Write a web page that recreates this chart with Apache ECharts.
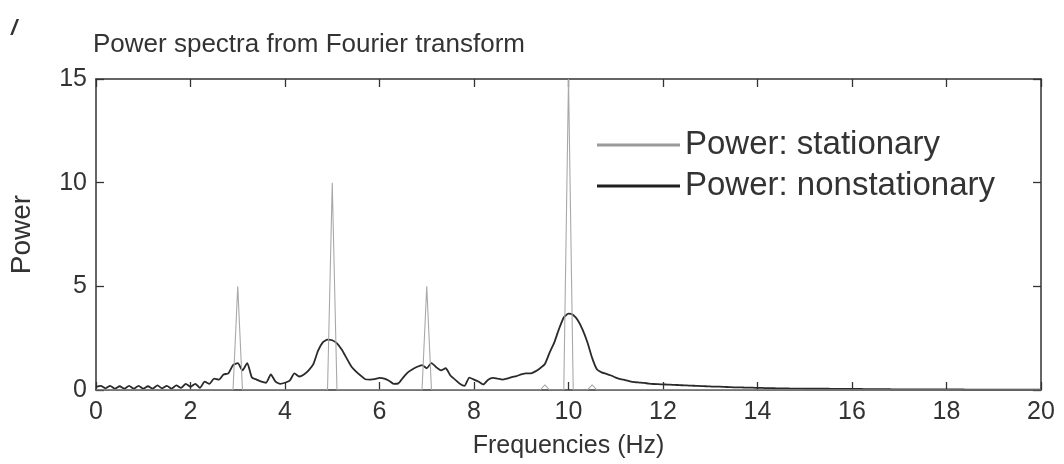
<!DOCTYPE html>
<html>
<head>
<meta charset="utf-8">
<script src="https://cdn.jsdelivr.net/npm/echarts@6/dist/echarts.min.js"></script>
<style>
  html, body { margin: 0; padding: 0; background: #fff; }
  #chart { width: 1064px; height: 464px; }
</style>
</head>
<body>
<div id="chart"></div>
<script>
// Power spectra of a stationary and a nonstationary signal (Fourier transform)

const xTicks = [0, 2, 4, 6, 8, 10, 12, 14, 16, 18, 20];
const yTicks = [0, 5, 10, 15];

// Stationary signal: narrow spectral lines, [frequency (Hz), power]
const stationary = [
  [0, 0], [2.9, 0], [3, 5], [3.1, 0],
  [4.9, 0], [5, 10], [5.1, 0],
  [6.9, 0], [7, 5], [7.1, 0],
  [9.4, 0], [9.5, 0.25], [9.6, 0],
  [9.9, 0], [10, 15], [10.1, 0],
  [10.4, 0], [10.5, 0.25], [10.6, 0],
  [20, 0]
];

// Nonstationary signal: power sampled every 0.1 Hz from 0 to 20 Hz
const freqStep = 0.1;
const nonstationary = [
  0.15, 0.2, 0.08, 0.2, 0.07, 0.18, 0.06, 0.2, 0.07, 0.2,        // 0.0 - 0.9
  0.06, 0.18, 0.07, 0.22, 0.08, 0.2, 0.07, 0.22, 0.1, 0.3,       // 1.0 - 1.9
  0.15, 0.3, 0.1, 0.4, 0.3, 0.55, 0.5, 0.75, 0.8, 1.2,           // 2.0 - 2.9
  1.3, 0.95, 1.3, 0.6, 0.5, 0.4, 0.35, 0.75, 0.4, 0.3,           // 3.0 - 3.9
  0.35, 0.45, 0.8, 0.65, 0.75, 0.95, 1.25, 1.9, 2.3, 2.43,       // 4.0 - 4.9
  2.4, 2.25, 1.95, 1.55, 1.15, 0.9, 0.7, 0.52, 0.5, 0.52,        // 5.0 - 5.9
  0.58, 0.55, 0.45, 0.3, 0.32, 0.6, 0.85, 1.0, 1.12, 1.2,        // 6.0 - 6.9
  1.05, 1.3, 1.1, 0.95, 1.05, 0.7, 0.5, 0.3, 0.2, 0.6,           // 7.0 - 7.9
  0.5, 0.4, 0.27, 0.5, 0.58, 0.55, 0.5, 0.55, 0.62, 0.67,        // 8.0 - 8.9
  0.75, 0.8, 0.8, 0.9, 1.05, 1.25, 1.8, 2.3, 2.95, 3.5,          // 9.0 - 9.9
  3.68, 3.62, 3.35, 2.9, 2.3, 1.55, 1.0, 0.85, 0.78, 0.7,        // 10.0 - 10.9
  0.6, 0.52, 0.48, 0.42, 0.38, 0.36, 0.34, 0.31, 0.29, 0.28,     // 11.0 - 11.9
  0.27, 0.26, 0.25, 0.24, 0.23, 0.22, 0.21, 0.2, 0.19, 0.18,     // 12.0 - 12.9
  0.17, 0.16, 0.16, 0.15, 0.14, 0.13, 0.13, 0.12, 0.11, 0.11,    // 13.0 - 13.9
  0.1, 0.1, 0.09, 0.09, 0.08, 0.08, 0.08, 0.07, 0.07, 0.07,      // 14.0 - 14.9
  0.06, 0.06, 0.06, 0.06, 0.06, 0.06, 0.05, 0.05, 0.05, 0.05,    // 15.0 - 15.9
  0.05, 0.05, 0.05, 0.04, 0.04, 0.04, 0.04, 0.04, 0.04, 0.03,    // 16.0 - 16.9
  0.03, 0.03, 0.03, 0.03, 0.03, 0.03, 0.03, 0.03, 0.03, 0.03,    // 17.0 - 17.9
  0.03, 0.03, 0.03, 0.03, 0.02, 0.02, 0.02, 0.02, 0.02, 0.02,    // 18.0 - 18.9
  0.02, 0.02, 0.02, 0.02, 0.02, 0.02, 0.02, 0.02, 0.02, 0.02,    // 19.0 - 19.9
  0.02                                                            // 20.0
];

const nonstationaryPairs = nonstationary.map((p, i) => [+(i * freqStep).toFixed(1), p]);

const FONT = '"Liberation Sans", Arial, sans-serif';
const INK = '#333';

const chart = echarts.init(document.getElementById('chart'), null, { renderer: 'canvas' });

// Boxed frame: every side carries inward-pointing ticks
const frameTick = { show: true, inside: true, length: 8, lineStyle: { color: INK, width: 1.3 } };
const frameLine = { show: true, onZero: false, lineStyle: { color: INK, width: 1.5 } };

chart.setOption({
  backgroundColor: '#fff',
  animation: false,
  title: {
    text: 'Power spectra from Fourier transform',
    left: 88, top: 27,
    textStyle: { fontFamily: FONT, fontSize: 26, fontWeight: 'normal', color: INK }
  },
  graphic: [{
    type: 'text', left: 11, top: 18,
    style: { text: '/', font: 'italic bold 22px ' + FONT, fill: INK }
  }],
  legend: {
    left: 597, top: 127, orient: 'vertical', padding: 0,
    itemWidth: 83, itemHeight: 3, itemGap: 5,
    icon: 'rect',
    data: ['Power: stationary', 'Power: nonstationary'],
    textStyle: { fontFamily: FONT, fontSize: 33, color: INK, lineHeight: 36 }
  },
  grid: { left: 93, right: 23, top: 79, bottom: 70, containLabel: false },
  xAxis: [{
    type: 'value', min: xTicks[0], max: xTicks[xTicks.length - 1], interval: 2,
    name: 'Frequencies (Hz)', nameLocation: 'middle', nameGap: 44,
    nameTextStyle: { fontFamily: FONT, fontSize: 25, color: INK },
    axisLine: frameLine, axisTick: frameTick,
    axisLabel: { fontFamily: FONT, fontSize: 25, color: INK, margin: 10 },
    splitLine: { show: false }
  }, {
    type: 'value', position: 'top', min: xTicks[0], max: xTicks[xTicks.length - 1], interval: 2,
    axisLine: frameLine, axisTick: frameTick, axisLabel: { show: false }, splitLine: { show: false }
  }],
  yAxis: [{
    type: 'value', min: yTicks[0], max: yTicks[yTicks.length - 1], interval: 5,
    name: 'Power', nameLocation: 'middle', nameGap: 60, nameRotate: 90,
    nameTextStyle: { fontFamily: FONT, fontSize: 28, color: INK },
    axisLine: frameLine, axisTick: frameTick,
    axisLabel: { fontFamily: FONT, fontSize: 25, color: INK, margin: 9 },
    splitLine: { show: false }
  }, {
    type: 'value', position: 'right', min: yTicks[0], max: yTicks[yTicks.length - 1], interval: 5,
    axisLine: frameLine, axisTick: frameTick, axisLabel: { show: false }, splitLine: { show: false }
  }],
  series: [{
    name: 'Power: nonstationary',
    type: 'line', data: nonstationaryPairs,
    showSymbol: false, smooth: 0.2,
    lineStyle: { color: '#2a2a2a', width: 1.8 },
    itemStyle: { color: '#1e1e1e' },
    z: 3
  }, {
    name: 'Power: stationary',
    type: 'line', data: stationary,
    showSymbol: false,
    lineStyle: { color: '#a8a8a8', width: 1.1 },
    itemStyle: { color: '#9a9a9a' },
    z: 4
  }]
});
</script>
</body>
</html>
